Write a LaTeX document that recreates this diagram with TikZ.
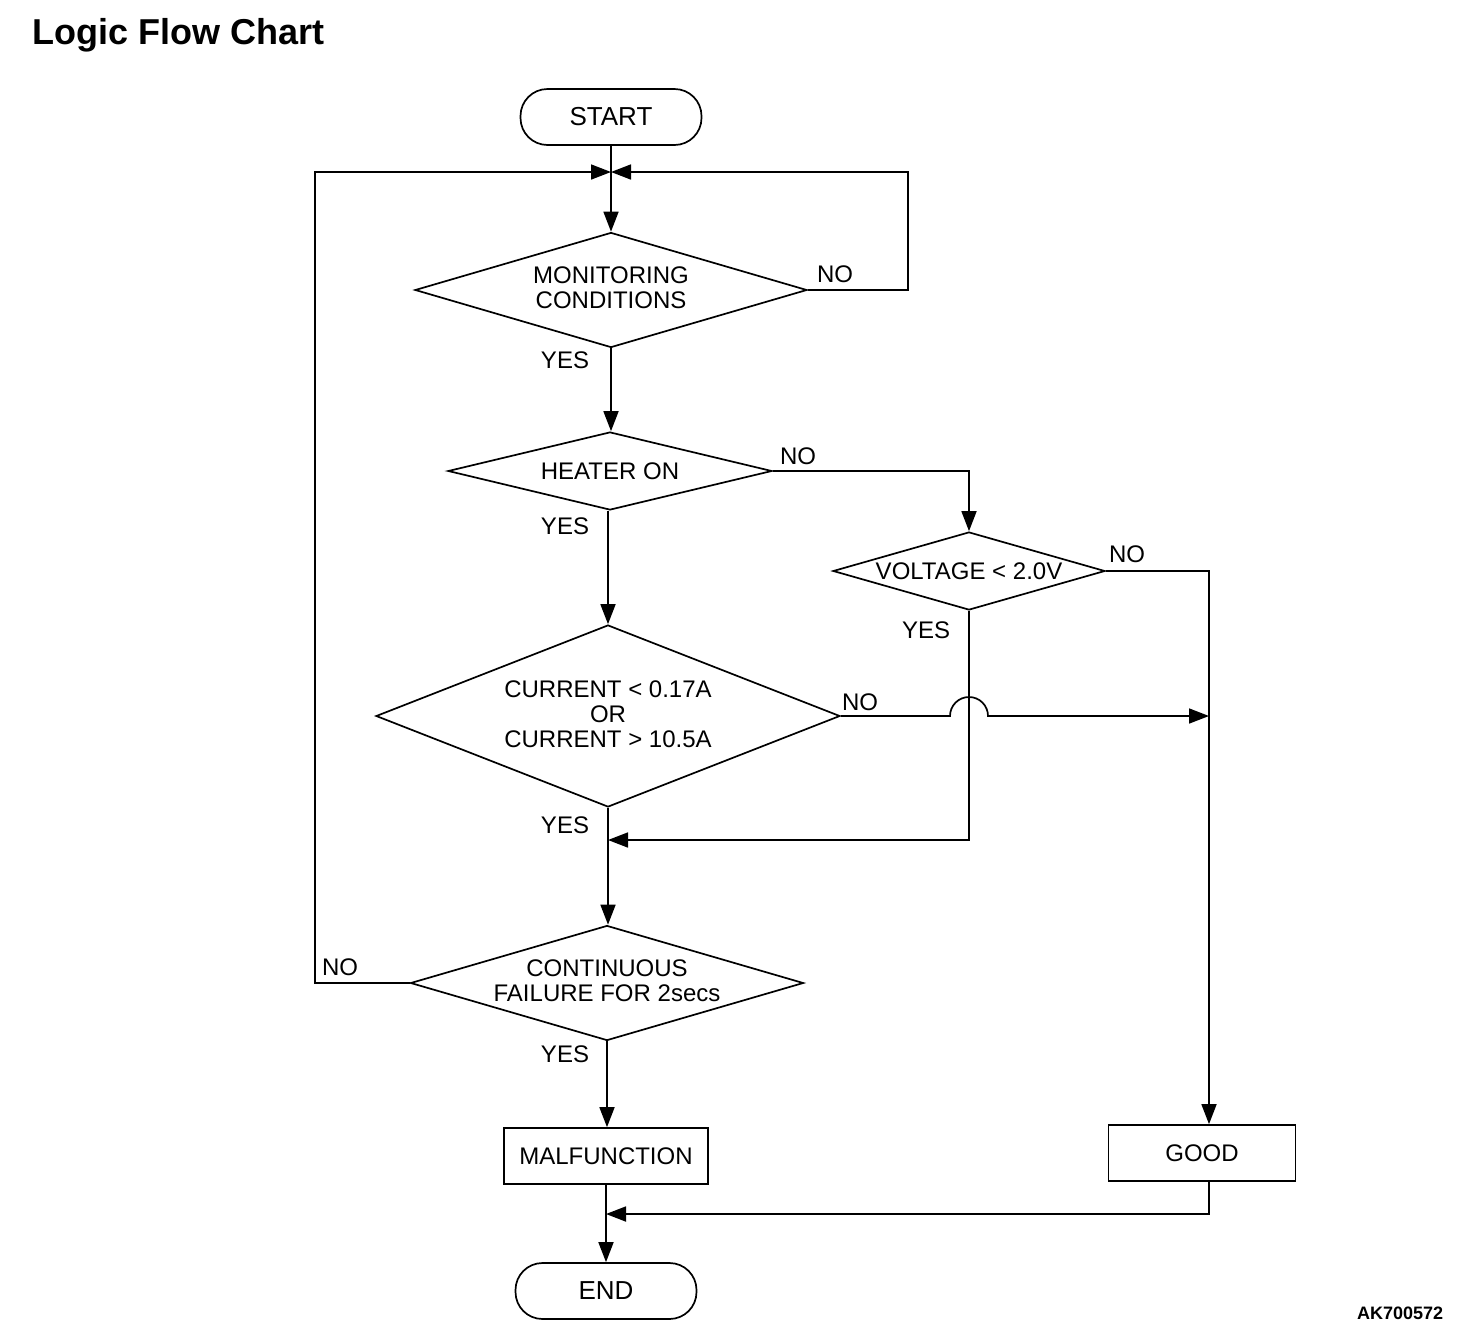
\documentclass[tikz,border=0pt]{standalone}
\usepackage{fontspec}
\setmainfont{Liberation Sans}
\usetikzlibrary{shapes.geometric,arrows.meta}
\begin{document}
\begin{tikzpicture}[x=1pt,y=-1pt,line width=1.7pt,
  >={Triangle[length=20pt,width=15pt]},
  dia/.style={draw,diamond,inner sep=0pt},
  txt/.style={font=\fontsize{24}{25}\selectfont,align=center,inner sep=0pt},
  term/.style={draw,rounded corners=27pt,minimum width=181pt,minimum height=56pt,inner sep=0pt,font=\fontsize{26}{30}\selectfont},
  box/.style={draw,minimum height=56pt,inner sep=0pt,font=\fontsize{24}{28}\selectfont},
  lbl/.style={font=\fontsize{24}{28}\selectfont,inner sep=0pt}]
\useasboundingbox (0,0) rectangle (1472,1342);
% title and code
\node[anchor=west,font=\bfseries\fontsize{36}{40}\selectfont,inner sep=0pt] (title) at (32,35) {Logic Flow Chart};
\node[anchor=east,font=\bfseries\fontsize{18}{20}\selectfont,inner sep=0pt] (code) at (1444,1313) {AK700572};
% nodes
\node[term] (start) at (611,117) {START};
\node[dia,minimum width=392pt,minimum height=115pt,label={[txt,yshift=2pt]center:MONITORING\\CONDITIONS}] (d1) at (611,290) {};
\node[dia,minimum width=324pt,minimum height=78pt,label={[txt]center:HEATER ON}] (d2) at (610,471) {};
\node[dia,minimum width=272pt,minimum height=78pt,label={[txt]center:VOLTAGE < 2.0V}] (d3) at (969,571) {};
\node[dia,minimum width=464pt,minimum height=182pt,label={[txt,yshift=2pt]center:CURRENT < 0.17A\\OR\\CURRENT > 10.5A}] (d4) at (608,716) {};
\node[dia,minimum width=393pt,minimum height=115pt,label={[txt,yshift=2pt]center:CONTINUOUS\\FAILURE FOR 2secs}] (d5) at (607,983) {};
\node[box,minimum width=204pt] (malf) at (606,1156) {MALFUNCTION};
\node[box,minimum width=187pt] (good) at (1202,1153) {GOOD};
\node[term] (end) at (606,1291) {END};
% helper coordinates
\coordinate (j0) at (611,172);
\coordinate (lx) at (315,0);
\coordinate (rx) at (908,0);
\coordinate (gx) at (1209,0);
\coordinate (j1) at (608,840);
\coordinate (j2) at (606,1214);
\coordinate (h1) at (950,716);
% connectors
\draw[->] (start) -- (d1.north);
\draw[->] (d1.east) -| (rx |- j0) -- (j0);
\draw[->] (d5.west) -| (lx |- j0) -- (j0);
\draw[->] (d1.south) -- (d1.south |- d2.north);
\draw[->] (d4.north |- d2.south) -- (d4.north);
\draw[->] (d2.east) -| (d3.north);
\draw[->] (d3.east) -| (gx |- good.north);
\draw[->] (d3.south) |- (j1);
\draw[->] (d4.east) -- (h1) arc[start angle=180,end angle=0,radius=19pt] -- (gx |- d4.east);
\draw[->] (d4.south) -- (d4.south |- d5.north);
\draw[->] (d5.south) -- (d5.south |- malf.north);
\draw[->] (malf.south) -- (end.north);
\draw[->] (gx |- good.south) |- (j2);
% branch labels
\node[lbl] (n1) at (835,274) {NO};
\node[lbl] (y1) at (565,360) {YES};
\node[lbl] (n2) at (798,456) {NO};
\node[lbl] (y2) at (565,526) {YES};
\node[lbl] (n3) at (1127,554) {NO};
\node[lbl] (y3) at (926,630) {YES};
\node[lbl] (n4) at (860,702) {NO};
\node[lbl] (y4) at (565,825) {YES};
\node[lbl] (n5) at (340,967) {NO};
\node[lbl] (y5) at (565,1054) {YES};
\end{tikzpicture}
\end{document}
